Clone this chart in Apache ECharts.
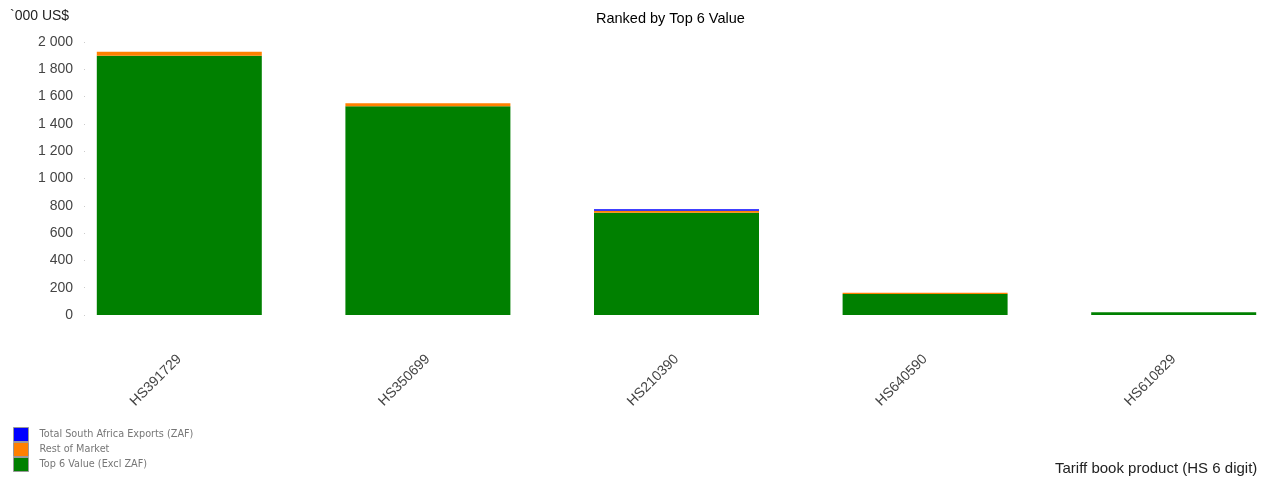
<!DOCTYPE html>
<html>
<head>
<meta charset="utf-8">
<script src="https://cdn.jsdelivr.net/npm/echarts@6/dist/echarts.min.js"></script>
<style>
html,body{margin:0;padding:0;background:#fff;overflow:hidden}
#main{width:1300px;height:479px}
</style>
</head>
<body>
<div id="main"></div>
<script>
var products = ['HS391729', 'HS350699', 'HS210390', 'HS640590', 'HS610829'];
var top6Values = [1900, 1530, 749, 154, 20];
var restOfMarket = [28, 22, 15, 9, 0];
var zafExports = [0, 0, 10, 0, 0];
var yTicks = [0, 200, 400, 600, 800, 1000, 1200, 1400, 1600, 1800, 2000];

var myChart = echarts.init(document.getElementById('main'));

var fmt = function (v) {
    // thousands separated with a space
    return String(v).replace(/\B(?=(\d{3})+(?!\d))/g, ' ');
};

var option = {
    animation: false,
    title: {
        text: 'Ranked by Top 6 Value',
        left: 591,
        top: 6,
        textStyle: {fontFamily: 'Liberation Sans', fontSize: 14.5, fontWeight: 'normal', color: '#000'}
    },
    legend: {
        orient: 'vertical',
        left: 13,
        top: 427,
        padding: 0,
        itemWidth: 15,
        itemHeight: 14,
        itemGap: 0,
        icon: 'rect',
        data: ['Total South Africa Exports (ZAF)', 'Rest of Market', 'Top 6 Value (Excl ZAF)'],
        textStyle: {fontFamily: 'DejaVu Sans', fontSize: 9.7, color: '#777', padding: [0, 0, 0, 6]},
        itemStyle: {borderColor: '#999', borderWidth: 1}
    },
    graphic: [
        {type: 'text', left: 10, top: 9,
         style: {text: '`000 US$', font: '14px "Liberation Sans"', fill: '#222'}},
        {type: 'text', left: 1055, top: 461,
         style: {text: 'Tariff book product (HS 6 digit)', font: '15px "Liberation Sans"', fill: '#222'}}
    ],
    grid: {left: 55, top: 42, width: 1243, height: 273, containLabel: false},
    xAxis: {
        type: 'category',
        data: products,
        axisLine: {show: false},
        axisTick: {show: false},
        axisLabel: {
            rotate: 45,
            margin: 42,
            fontFamily: 'Liberation Sans',
            fontSize: 14,
            color: '#444'
        }
    },
    yAxis: {
        type: 'value',
        min: 0,
        max: 2000,
        interval: 200,
        offset: -30,
        axisLine: {show: false},
        axisTick: {show: true, length: 1, lineStyle: {color: '#ccc'}},
        splitLine: {show: false},
        axisLabel: {
            margin: 12,
            fontFamily: 'Liberation Sans',
            fontSize: 14,
            color: '#444',
            formatter: function (v) {
                return yTicks.indexOf(v) >= 0 ? fmt(v) : '';
            }
        }
    },
    series: [
        {
            name: 'Top 6 Value (Excl ZAF)',
            type: 'bar',
            stack: 'total',
            barWidth: 165,
            itemStyle: {color: '#008000'},
            data: top6Values
        },
        {
            name: 'Rest of Market',
            type: 'bar',
            stack: 'total',
            barWidth: 165,
            itemStyle: {color: '#ff8000'},
            data: restOfMarket
        },
        {
            name: 'Total South Africa Exports (ZAF)',
            type: 'bar',
            stack: 'total',
            barWidth: 165,
            itemStyle: {color: '#0000ff'},
            data: zafExports
        }
    ]
};
myChart.setOption(option);
</script>
</body>
</html>
